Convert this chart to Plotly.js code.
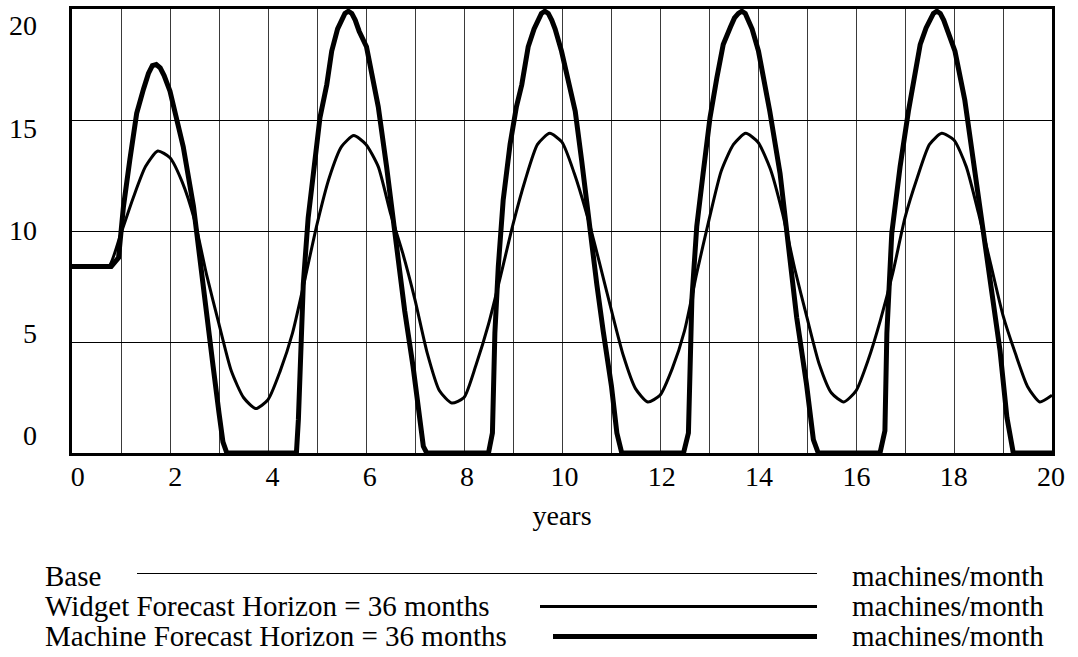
<!DOCTYPE html>
<html>
<head>
<meta charset="utf-8">
<script src="https://cdn.plot.ly/plotly-3.0.1.min.js"></script>
<style>
  html, body { margin: 0; padding: 0; background: #fff; font-family: 'Liberation Serif', serif; }
  #chart { width: 1078px; height: 657px; }
</style>
</head>
<body>
<div id="chart"></div>
<script>
// Widget run, sampled every quarter year (machines/month)
const widgetYears = [
  0, 0.25, 0.5, 0.75, 1, 1.25, 1.5, 1.75, 2, 2.25, 2.5, 2.75, 3, 3.25, 3.5, 3.75,
  4, 4.25, 4.5, 4.75, 5, 5.25, 5.5, 5.75, 6, 6.25, 6.5, 6.75, 7, 7.25, 7.5, 7.75,
  8, 8.25, 8.5, 8.75, 9, 9.25, 9.5, 9.75, 10, 10.25, 10.5, 10.75, 11, 11.25, 11.5, 11.75,
  12, 12.25, 12.5, 12.75, 13, 13.25, 13.5, 13.75, 14, 14.25, 14.5, 14.75, 15, 15.25, 15.5, 15.75,
  16, 16.25, 16.5, 16.75, 17, 17.25, 17.5, 17.75, 18, 18.25, 18.5, 18.75, 19, 19.25, 19.5, 19.75, 20
];
const widgetValues = [
  8.4, 8.4, 8.4, 8.4, 9.9, 11.5, 12.9, 13.6, 13.3, 12.2, 10.5, 8.0, 5.8, 3.7, 2.5, 2.0,
  2.4, 3.7, 5.4, 7.8, 10.3, 12.4, 13.8, 14.3, 13.9, 12.9, 10.8, 9.0, 6.9, 4.5, 2.8, 2.25,
  2.5, 4.0, 5.8, 8.0, 10.3, 12.3, 13.9, 14.4, 14.0, 12.6, 10.8, 8.7, 6.5, 4.4, 2.9, 2.3,
  2.6, 3.8, 5.5, 8.1, 10.5, 12.7, 13.9, 14.4, 14.0, 12.8, 10.8, 8.3, 6.1, 4.0, 2.7, 2.3,
  2.8, 4.2, 6.0, 8.1, 10.6, 12.4, 13.9, 14.4, 14.1, 12.9, 10.8, 8.5, 6.2, 4.5, 3.0, 2.3, 2.6
];

// Base run coincides with the widget run over this horizon
const baseYears = widgetYears.slice();
const baseValues = widgetValues.slice();

// Machine run (machines/month); output is floored at zero between bursts
const machineYears = [
  0, 0.8, 0.95, 1.05, 1.18, 1.32, 1.46, 1.56, 1.64, 1.72, 1.8, 1.88, 2.0, 2.15, 2.27, 2.48, 2.68, 2.88, 3.0, 3.08, 3.16,
  4.58, 4.62, 4.65, 4.72, 4.82, 4.95, 5.06, 5.2, 5.3, 5.42, 5.5, 5.57, 5.64, 5.71, 5.78, 5.86, 6.01, 6.25, 6.42, 6.59, 6.79, 6.96, 7.1, 7.17, 7.24,
  8.5, 8.58, 8.63, 8.7, 8.8, 8.94, 9.07, 9.18, 9.31, 9.43, 9.51, 9.58, 9.65, 9.72, 9.79, 9.86, 9.99, 10.13, 10.27, 10.4, 10.57, 10.71, 10.84, 11.01, 11.12, 11.22,
  12.48, 12.58, 12.65, 12.75, 12.88, 13.02, 13.16, 13.29, 13.44, 13.52, 13.6, 13.67, 13.74, 13.81, 13.88, 14.01, 14.24, 14.45, 14.62, 14.79, 14.99, 15.13, 15.23,
  16.49, 16.59, 16.63, 16.73, 16.9, 17.07, 17.31, 17.43, 17.51, 17.58, 17.65, 17.72, 17.79, 17.87, 18.02, 18.22, 18.39, 18.59, 18.76, 18.94, 19.08, 19.21, 20
];
const machineValues = [
  8.4, 8.4, 8.8, 11.1, 13.2, 15.3, 16.4, 17.1, 17.45, 17.5, 17.35, 17.0, 16.3, 15.0, 13.8, 11.1, 7.3, 3.9, 1.8, 0.5, 0,
  0, 1.5, 3.9, 7.6, 10.6, 13.2, 15.1, 16.6, 18.1, 19.1, 19.55, 19.8, 19.9, 19.8, 19.5, 19.0, 18.3, 15.6, 12.9, 9.9, 6.4, 3.9, 1.2, 0.3, 0,
  0, 0.9, 5.4, 8.4, 11.4, 13.9, 15.6, 16.6, 18.3, 19.1, 19.55, 19.8, 19.9, 19.8, 19.5, 19.1, 18.1, 16.8, 15.4, 13.2, 10.0, 7.6, 5.5, 3.0, 0.9, 0,
  0, 0.9, 6.9, 10.2, 12.6, 15.1, 16.9, 18.4, 19.2, 19.6, 19.8, 19.9, 19.8, 19.5, 19.1, 18.1, 15.4, 12.6, 9.1, 6.1, 3.1, 0.6, 0,
  0, 1.0, 5.4, 9.9, 12.9, 15.4, 18.4, 19.15, 19.55, 19.8, 19.9, 19.8, 19.5, 19.0, 18.1, 15.9, 13.2, 10.2, 7.3, 4.6, 1.6, 0, 0
];

// Axis labels
const xTickValues = [0, 2, 4, 6, 8, 10, 12, 14, 16, 18, 20];
const yTickValues = [0, 5, 10, 15, 20];
const xAxisTitle = 'years';
const seriesNames = ['Base', 'Widget Forecast Horizon = 36 months', 'Machine Forecast Horizon = 36 months'];
const seriesUnit = 'machines/month';

const FONT = 'Liberation Serif';
const W = 1078, H = 657;
const M = { l: 72, r: 26, t: 9, b: 204 };
const plotW = W - M.l - M.r;
const plotH = H - M.t - M.b;
// page pixel -> paper coordinates (for the key below the plot)
const px = x => (x - M.l) / plotW;
const py = y => (H - M.b - y) / plotH;

const traces = [
  { x: baseYears, y: baseValues, name: seriesNames[0], mode: 'lines',
    line: { color: '#000', width: 1, shape: 'spline', smoothing: 0.6 }, hoverinfo: 'x+y' },
  { x: widgetYears, y: widgetValues, name: seriesNames[1], mode: 'lines',
    line: { color: '#000', width: 3, shape: 'spline', smoothing: 0.6 }, hoverinfo: 'x+y' },
  { x: machineYears, y: machineValues, name: seriesNames[2], mode: 'lines',
    line: { color: '#000', width: 5, shape: 'linear' }, hoverinfo: 'x+y' },
  // carrier for the label axes
  { x: [], y: [], xaxis: 'x2', yaxis: 'y2', showlegend: false, hoverinfo: 'skip' }
];

// key rows: sample line position and extent
const keyRows = [
  { y: 573.5, x0: 137, width: 1 },
  { y: 606.5, x0: 540, width: 3 },
  { y: 636.5, x0: 553, width: 5 }
];
const keyTextY = [576, 606, 636];
const keyLineEnd = 817;
const keyFont = { family: FONT, size: 29, color: '#000' };

const shapes = keyRows.map(r => ({
  type: 'line', xref: 'paper', yref: 'paper',
  x0: px(r.x0), x1: px(keyLineEnd), y0: py(r.y), y1: py(r.y),
  line: { color: '#000', width: r.width }
}));

const annotations = [];
keyRows.forEach((r, i) => {
  annotations.push({
    xref: 'paper', yref: 'paper', x: px(43), y: py(keyTextY[i]), xanchor: 'left', yanchor: 'middle',
    text: seriesNames[i], showarrow: false, font: keyFont
  });
  annotations.push({
    xref: 'paper', yref: 'paper', x: px(850), y: py(keyTextY[i]), xanchor: 'left', yanchor: 'middle',
    text: seriesUnit, showarrow: false, font: keyFont
  });
});

const tickFont = { family: FONT, size: 28, color: '#000' };

const layout = {
  width: W, height: H,
  margin: M,
  paper_bgcolor: '#fff', plot_bgcolor: '#fff',
  showlegend: false,
  font: { family: FONT, color: '#000', size: 28 },
  xaxis: {
    range: [0, 20], dtick: 1, tick0: 0, showticklabels: false, ticks: '',
    showgrid: true, gridcolor: '#3a3a3a', gridwidth: 1, zeroline: false,
    showline: true, linecolor: '#000', linewidth: 3, mirror: true
  },
  yaxis: {
    range: [0, 20], dtick: 5, tick0: 0, showticklabels: false, ticks: '',
    showgrid: true, gridcolor: '#000', gridwidth: 1, zeroline: false,
    showline: true, linecolor: '#000', linewidth: 3, mirror: true
  },
  xaxis2: {
    overlaying: 'x', anchor: 'y', side: 'bottom',
    range: [-0.12, 20.02], tickmode: 'array', tickvals: xTickValues,
    ticks: '', showgrid: false, zeroline: false, showline: false,
    tickfont: tickFont, ticklabelstandoff: 4,
    title: { text: xAxisTitle, font: tickFont, standoff: 14 }
  },
  yaxis2: {
    overlaying: 'y', anchor: 'x', side: 'left',
    range: [-0.863, 20.79], tickmode: 'array', tickvals: yTickValues,
    ticks: '', showgrid: false, zeroline: false, showline: false,
    tickfont: tickFont, ticklabelstandoff: 34
  },
  shapes: shapes,
  annotations: annotations
};

function draw() {
  Plotly.newPlot('chart', traces, layout, { displayModeBar: false, staticPlot: true });
}
// make sure the serif face is resolved before measuring text
if (document.fonts && document.fonts.load) {
  document.fonts.load("28px 'Liberation Serif'").then(draw, draw);
} else {
  draw();
}
</script>
</body>
</html>
